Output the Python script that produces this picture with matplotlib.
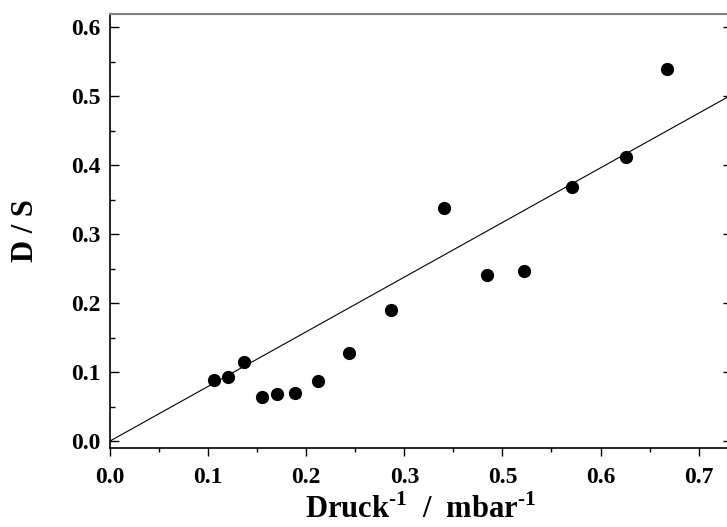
import numpy as np
import matplotlib
matplotlib.use('Agg')
import matplotlib.pyplot as plt
from matplotlib.ticker import MultipleLocator

# data (x in axis units)
x_druck = [0.106, 0.120, 0.137, 0.155, 0.170, 0.189, 0.212, 0.244,
           0.286, 0.340, 0.384, 0.422, 0.471, 0.526, 0.568]
y_ds = [0.088, 0.093, 0.114, 0.064, 0.068, 0.069, 0.087, 0.128,
        0.190, 0.338, 0.240, 0.247, 0.368, 0.412, 0.540]

fit_slope = 0.792
fit_intercept = 0.0

x_tick_pos = [0.0, 0.1, 0.2, 0.3, 0.4, 0.5, 0.6]
x_tick_labels = ['0.0', '0.1', '0.2', '0.3', '0.5', '0.6', '0.7']
y_tick_pos = [0.0, 0.1, 0.2, 0.3, 0.4, 0.5, 0.6]
y_tick_labels = ['0.0', '0.1', '0.2', '0.3', '0.4', '0.5', '0.6']

plt.rcParams['font.family'] = 'Liberation Serif'
plt.rcParams['font.weight'] = 'bold'
plt.rcParams['mathtext.fontset'] = 'custom'
plt.rcParams['mathtext.rm'] = 'Liberation Serif:bold'
plt.rcParams['mathtext.bf'] = 'Liberation Serif:bold'

fig = plt.figure(figsize=(7.27, 5.27), dpi=100)
ax = fig.add_axes([110/727, 79/527, 622/727, 434/527])

xmin, xmax = 0.0, 0.634
ax.set_xlim(xmin, xmax)
ax.set_ylim(-0.0101, 0.619)

xs = np.array([xmin, xmax])
ax.plot(xs, fit_intercept + fit_slope*xs, color='black', lw=0.8)
ax.plot(x_druck, y_ds, 'o', color='black', markersize=8.5, clip_on=False)

ax.set_xticks(x_tick_pos)
ax.set_xticklabels(x_tick_labels)
ax.set_yticks(y_tick_pos)
ax.set_yticklabels(y_tick_labels)
ax.xaxis.set_minor_locator(MultipleLocator(0.05))
ax.yaxis.set_minor_locator(MultipleLocator(0.05))

ax.tick_params(axis='x', which='major', direction='out', length=6, width=1,
               labelsize=17, pad=8, top=False)
ax.tick_params(axis='x', which='minor', direction='out', length=3, width=1, top=False)
ax.tick_params(axis='y', which='major', direction='in', length=6.5, width=1,
               labelsize=17, pad=7, right=True)
ax.tick_params(axis='y', which='minor', direction='in', length=3.5, width=1, right=False)

for side in ['left', 'bottom', 'right']:
    ax.spines[side].set_linewidth(1.2)
    ax.spines[side].set_color('black')
ax.spines['top'].set_color('#808080')
ax.spines['top'].set_linewidth(1.5)

ax.set_xlabel('Druck$^{\\text{-1}}$  /  mbar$^{\\text{-1}}$', fontsize=22,
              fontweight='bold', labelpad=4)
ax.set_ylabel('D / S', fontsize=22, fontweight='bold', labelpad=22)

fig.savefig('out.png', dpi=100)
